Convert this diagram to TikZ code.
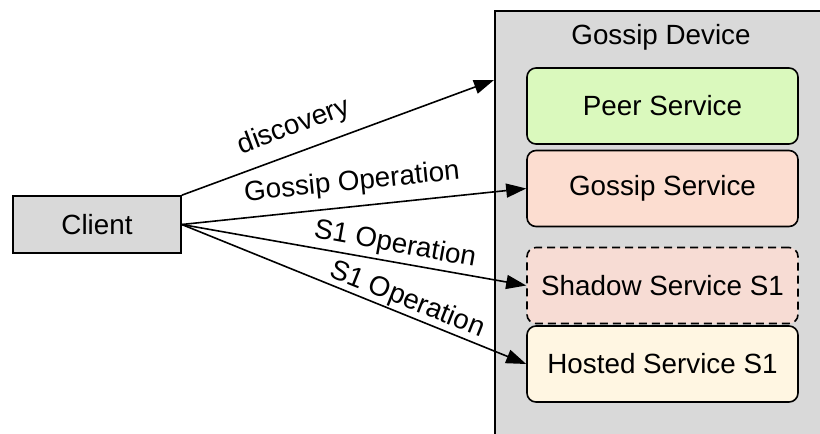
\documentclass[tikz,border=0pt]{standalone}
\usepackage{fontspec}
\setmainfont{Liberation Sans}
\usetikzlibrary{arrows.meta,calc}
\definecolor{boxgray}{HTML}{D9D9D9}
\definecolor{peerfill}{HTML}{DAF9BD}
\definecolor{gossipfill}{HTML}{FCDDD0}
\definecolor{shadowfill}{HTML}{F7DCD4}
\definecolor{hostedfill}{HTML}{FFF6E2}
\tikzset{
  txt/.style={font=\fontsize{27.8}{32}\selectfont, inner sep=0pt},
  container/.style={draw, line width=1.6pt, fill=boxgray, anchor=north west},
  clientbox/.style={draw, line width=1.6pt, fill=boxgray, minimum width=168pt, minimum height=57pt, txt},
  service/.style={draw, line width=1.6pt, rounded corners=9pt, minimum width=271pt, minimum height=76pt, txt},
  msg/.style={line width=1.6pt, -{Triangle[length=20pt,width=14pt]}},
  lbl/.style={txt}
}
\begin{document}
\begin{tikzpicture}[x=1pt,y=-1pt]
\useasboundingbox (0,0) rectangle (820,434);
\clip (0,0) rectangle (820,434);

% device container and its services
\node[container, minimum width=340pt, minimum height=440pt] (device) at (494,10) {};
\node[txt] (title) at (661,37) {Gossip Device};
\node[service, fill=peerfill] (peer) at (662.5,106) {Peer Service};
\node[service, fill=gossipfill] (gossip) at (662.5,188.5) {Gossip Service};
\node[service, fill=shadowfill, dash pattern=on 8pt off 5pt] (shadow) at (662.5,285.5) {Shadow Service S1};
\node[service, fill=hostedfill] (hosted) at (662.5,364) {Hosted Service S1};

% client
\node[clientbox] (client) at (97,224.5) {Client};

% messages
\coordinate (disc) at ($(device.north west)+(0,70)$);
\draw[msg] (client.north east) -- (disc);
\draw[msg] (client.east) -- (gossip.west);
\draw[msg] (client.east) -- (shadow.west);
\draw[msg] (client.east) -- (hosted.west);

% message labels
\node[lbl, rotate=20.5] (l1) at (294,127) {discovery};
\node[lbl, rotate=5.8] (l2) at (352,183) {Gossip Operation};
\node[lbl, rotate=-10.2] (l3) at (395,245) {S1 Operation};
\node[lbl, rotate=-21.7] (l4) at (407,300) {S1 Operation};
\end{tikzpicture}
\end{document}
